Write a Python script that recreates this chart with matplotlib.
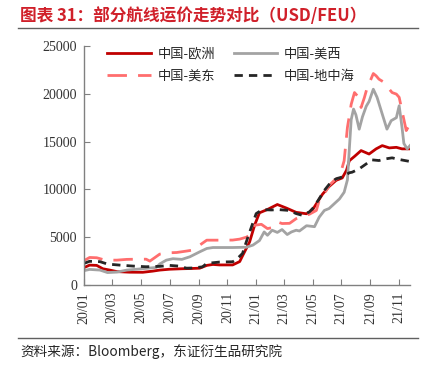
import matplotlib
matplotlib.use("Agg")
import matplotlib.pyplot as plt
import matplotlib.dates as mdates
import pandas as pd

plt.rcParams['font.family'] = ['Liberation Serif', 'Noto Sans CJK SC', 'DejaVu Sans']

series_names = ["中国-欧洲", "中国-美西", "中国-美东", "中国-地中海"]

eu_dates = ["2020-01-01", "2020-01-13", "2020-01-28", "2020-02-10", "2020-02-25", "2020-03-11",
            "2020-04-07", "2020-05-05", "2020-05-26", "2020-06-10", "2020-07-01", "2020-07-27",
            "2020-08-13", "2020-09-03", "2020-09-18", "2020-10-01", "2020-10-15", "2020-11-12",
            "2020-11-27", "2020-12-03", "2020-12-18", "2020-12-29", "2021-01-08", "2021-01-25",
            "2021-02-15", "2021-03-06", "2021-03-27", "2021-04-18", "2021-04-30", "2021-05-09",
            "2021-05-22", "2021-06-05", "2021-06-20", "2021-07-03", "2021-07-12", "2021-07-18",
            "2021-07-29", "2021-08-12", "2021-08-29", "2021-09-13", "2021-09-26", "2021-10-11",
            "2021-10-26", "2021-11-07", "2021-11-24"]
eu_vals = [1820, 2080, 2050, 1700, 1560, 1400,
           1340, 1330, 1450, 1560, 1650, 1700,
           1720, 1760, 2050, 2150, 2100, 2100,
           2450, 3050, 4500, 6300, 7550, 7900,
           8420, 8050, 7600, 7450, 7800, 8500,
           9500, 10300, 10950, 11200, 12000, 13000,
           13450, 14060, 13700, 14240, 14580, 14340,
           14400, 14240, 14240]

usw_dates = ["2020-01-01", "2020-01-13", "2020-02-04", "2020-02-20", "2020-03-11", "2020-04-01",
             "2020-04-22", "2020-05-12", "2020-06-03", "2020-06-10", "2020-06-24", "2020-07-08",
             "2020-07-27", "2020-08-13", "2020-09-03", "2020-09-18", "2020-10-01", "2020-11-12",
             "2020-12-11", "2020-12-25", "2021-01-08", "2021-01-18", "2021-01-25", "2021-02-04",
             "2021-02-15", "2021-02-25", "2021-03-08", "2021-03-17", "2021-03-27", "2021-04-03",
             "2021-04-18", "2021-05-05", "2021-05-15", "2021-05-26", "2021-06-05", "2021-06-16",
             "2021-06-27", "2021-07-07", "2021-07-14", "2021-07-18", "2021-07-22", "2021-07-27",
             "2021-08-01", "2021-08-08", "2021-08-15", "2021-08-23", "2021-08-29", "2021-09-07",
             "2021-09-15", "2021-09-26", "2021-10-06", "2021-10-15", "2021-10-26", "2021-11-01",
             "2021-11-07", "2021-11-11", "2021-11-18", "2021-11-24"]
usw_vals = [1500, 1630, 1560, 1300, 1350, 1560,
            1650, 1740, 1840, 2200, 2600, 2750,
            2680, 2950, 3470, 3820, 3920, 3920,
            3950, 4170, 4650, 5550, 5200, 5730,
            5500, 5800, 5280, 5550, 5730, 5650,
            6200, 6100, 7100, 7800, 8000, 8500,
            9000, 9700, 11000, 14200, 17300, 18400,
            17800, 16300, 17600, 18700, 19200, 20480,
            19630, 17880, 16300, 17190, 17500, 18750,
            16500, 14800, 14240, 14580]

use_dates = ["2020-01-01", "2020-01-13", "2020-01-28", "2020-02-15", "2020-03-11", "2020-04-01",
             "2020-04-22", "2020-05-12", "2020-05-20", "2020-06-10", "2020-07-01", "2020-07-16",
             "2020-08-06", "2020-08-19", "2020-09-03", "2020-09-18", "2020-10-15", "2020-11-12",
             "2020-11-27", "2020-12-11", "2020-12-18", "2020-12-29", "2021-01-12", "2021-01-25",
             "2021-02-04", "2021-02-15", "2021-02-25", "2021-03-13", "2021-03-27", "2021-04-09",
             "2021-04-24", "2021-05-09", "2021-05-15", "2021-05-26", "2021-06-05", "2021-06-16",
             "2021-06-27", "2021-07-07", "2021-07-14", "2021-07-22", "2021-07-29", "2021-08-04",
             "2021-08-12", "2021-08-19", "2021-08-25", "2021-09-02", "2021-09-07", "2021-09-13",
             "2021-09-19", "2021-09-30", "2021-10-11", "2021-10-17", "2021-10-26", "2021-11-01",
             "2021-11-07", "2021-11-16", "2021-11-20", "2021-11-24"]
use_vals = [2550, 2880, 2850, 2600, 2600, 2680,
            2700, 2700, 2500, 3230, 3370, 3400,
            3550, 3650, 4170, 4690, 4690, 4700,
            4800, 5000, 5200, 6250, 6350, 5900,
            6000, 6600, 6430, 6450, 6940, 7200,
            7400, 7800, 8850, 9550, 10400, 10940,
            11280, 13000, 16490, 18900, 20130, 19790,
            18570, 19600, 20650, 21530, 22120, 21880,
            21530, 21200, 20480, 20130, 19970, 19630,
            18230, 16150, 16500, 16670]

med_dates = ["2020-01-01", "2020-01-13", "2020-02-04", "2020-02-20", "2020-03-17", "2020-04-14",
             "2020-05-12", "2020-06-10", "2020-07-01", "2020-07-20", "2020-08-06", "2020-08-19",
             "2020-09-09", "2020-09-18", "2020-10-15", "2020-11-12", "2020-11-20", "2020-12-03",
             "2020-12-11", "2020-12-22", "2021-01-01", "2021-01-14", "2021-02-02", "2021-02-19",
             "2021-03-12", "2021-03-27", "2021-04-09", "2021-04-24", "2021-05-04", "2021-05-15",
             "2021-05-26", "2021-06-09", "2021-06-20", "2021-07-03", "2021-07-18", "2021-07-24",
             "2021-08-08", "2021-08-23", "2021-09-04", "2021-09-19", "2021-10-04", "2021-10-17",
             "2021-11-01", "2021-11-24"]
med_vals = [2260, 2480, 2440, 2190, 2080, 1980,
            1910, 1950, 2050, 1980, 1760, 1780,
            1900, 2260, 2400, 2430, 2670, 3300,
            4510, 6080, 7470, 7880, 7850, 7880,
            7800, 7470, 7290, 7640, 8160, 9030,
            9900, 10760, 11110, 11300, 11740, 11800,
            12150, 12670, 13090, 13020, 13200, 13300,
            13130, 12920]

y_ticks = [0, 5000, 10000, 15000, 20000, 25000]

fig = plt.figure(figsize=(4.32, 3.69), dpi=100)
ax = fig.add_axes([84/432, 1-285/369, (410-84)/432, (285-46)/369])

def d(lst):
    return pd.to_datetime(lst)

l1, = ax.plot(d(eu_dates), eu_vals, color='#C00000', lw=2.0, label=series_names[0])
l3, = ax.plot(d(use_dates), use_vals, color='#FF6E6E', lw=2.0, dashes=(7, 4), label=series_names[2])
l2, = ax.plot(d(usw_dates), usw_vals, color='#A3A3A3', lw=2.0, label=series_names[1])
l4, = ax.plot(d(med_dates), med_vals, color='#262626', lw=2.0, dashes=(3, 2.2), label=series_names[3])

ax.set_ylim(0, 25000)
ax.set_yticks(y_ticks)
ax.set_xlim(pd.Timestamp("2020-01-01"), pd.Timestamp("2021-11-24"))
ax.xaxis.set_major_locator(mdates.MonthLocator(bymonth=[1, 3, 5, 7, 9, 11]))
ax.xaxis.set_major_formatter(mdates.DateFormatter("%y/%m"))

for s in ['top', 'right']:
    ax.spines[s].set_visible(False)
for s in ['left', 'bottom']:
    ax.spines[s].set_color('#808080')
    ax.spines[s].set_linewidth(1.0)
ax.tick_params(axis='both', direction='in', length=4, color='#808080',
               labelsize=10, labelcolor='#333333')
ax.tick_params(axis='y', pad=5)
ax.tick_params(axis='x', pad=5)
for lab in ax.get_xticklabels() + ax.get_yticklabels():
    lab.set_fontfamily('Liberation Serif')
for lab in ax.get_xticklabels():
    lab.set_rotation(90)

leg = ax.legend(handles=[l1, l3, l2, l4], ncol=2, loc='upper left',
                bbox_to_anchor=(0.035, 1.045), frameon=False,
                prop={'family': ['Noto Sans CJK SC'], 'size': 9.5},
                handlelength=3.3, columnspacing=1.4, labelspacing=0.75, handletextpad=0.5)
for t in leg.get_texts():
    t.set_color('#262626')

fig.text(20/432, 1-16/369, "图表 31：部分航线运价走势对比（USD/FEU）",
         color='#D0202A', fontsize=12, fontweight='bold',
         family=['Noto Sans CJK SC'], va='center', ha='left')
fig.add_artist(plt.Line2D([18/432, 418/432], [1-28/369, 1-28/369], color='#606060', lw=1.0))
fig.add_artist(plt.Line2D([18/432, 418/432], [1-338/369, 1-338/369], color='#606060', lw=1.0))
fig.text(20/432, 1-352/369, "资料来源：Bloomberg，东证衍生品研究院",
         color='#262626', fontsize=9.8, family=['Noto Sans CJK SC'], va='center', ha='left')

fig.savefig("out.png", dpi=100)
